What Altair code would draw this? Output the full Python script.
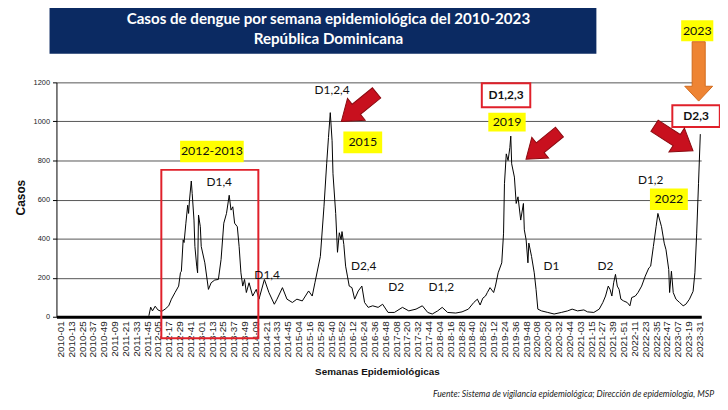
import altair as alt
import pandas as pd

# ---------------- data ----------------
# week number counted from 2010-01 (0 = 2010-01, 708 = 2023-31)
semana_n = [98, 100, 102, 105, 108, 112, 116, 120, 123, 127, 131, 133, 134, 136, 137, 139, 141, 142, 143, 145,
            146, 148, 149, 151, 152, 153, 155, 156, 160, 164, 167, 171, 175, 178, 181, 184, 187, 189, 191, 193,
            196, 198, 200, 202, 204, 206, 209, 213, 217, 220, 226, 231, 237, 240, 246, 251, 257, 262, 268, 275,
            279, 282, 288, 292, 295, 297, 299, 301, 302, 305, 307, 309, 311, 312, 314, 316, 318, 320, 323, 326,
            330, 334, 337, 341, 346, 352, 357, 363, 370, 379, 386, 394, 401, 407, 412, 418, 423, 429, 438, 445,
            452, 458, 462, 465, 468, 471, 473, 476, 480, 482, 485, 489, 491, 492, 494, 496, 498, 499, 500, 503,
            505, 507, 510, 513, 514, 516, 518, 519, 522, 525, 527, 529, 533, 540, 547, 555, 562, 567, 573, 580,
            584, 591, 597, 601, 604, 607, 609, 611, 613, 615, 617, 619, 621, 624, 628, 631, 633, 637, 640, 644,
            648, 652, 654, 657, 660, 662, 664, 666, 669, 671, 674, 675, 677, 679, 682, 686, 690, 693, 697, 701,
            703, 705, 707, 709]
casos = [5, 49, 30, 54, 35, 27, 39, 56, 90, 124, 157, 226, 233, 394, 380, 479, 571, 529, 597, 695,
         631, 495, 360, 259, 225, 521, 461, 360, 276, 140, 174, 188, 191, 293, 479, 529, 622, 546, 563, 479,
         461, 360, 225, 157, 191, 124, 174, 106, 140, 90, 191, 124, 64, 90, 149, 90, 73, 90, 81, 132,
         106, 174, 309, 563, 783, 918, 1045, 901, 732, 529, 330, 430, 395, 436, 370, 259, 208, 157, 149, 90,
         132, 157, 73, 48, 56, 48, 64, 22, 22, 48, 30, 39, 56, 22, 14, 30, 48, 22, 19, 25,
         39, 73, 90, 60, 95, 106, 124, 149, 124, 157, 225, 276, 428, 681, 834, 800, 867, 925, 783, 715,
         580, 614, 495, 580, 445, 394, 276, 377, 309, 225, 140, 39, 30, 22, 14, 22, 30, 39, 30, 35,
         25, 22, 39, 73, 106, 157, 140, 106, 174, 217, 157, 140, 90, 81, 73, 56, 98, 106, 124, 157,
         208, 250, 259, 360, 461, 529, 495, 461, 377, 343, 242, 124, 233, 124, 90, 73, 56, 64, 90, 130,
         225, 428, 681, 935]

tick_labels = ["2010-01", "2010-13", "2010-25", "2010-37", "2010-49", "2011-09", "2011-21", "2011-33", "2011-45",
               "2012-05", "2012-17", "2012-29", "2012-41", "2013-01", "2013-13", "2013-25", "2013-37", "2013-49",
               "2014-09", "2014-21", "2014-33", "2014-45", "2015-04", "2015-16", "2015-28", "2015-40", "2015-52",
               "2016-12", "2016-24", "2016-36", "2016-48", "2017-08", "2017-20", "2017-32", "2017-44", "2018-04",
               "2018-16", "2018-28", "2018-40", "2018-52", "2019-12", "2019-24", "2019-36", "2019-48", "2020-08",
               "2020-20", "2020-32", "2020-44", "2021-03", "2021-15", "2021-27", "2021-39", "2021-51", "2022-11",
               "2022-23", "2022-35", "2022-47", "2023-07", "2023-19", "2023-31"]
y_ticks = [0, 200, 400, 600, 800, 1000, 1200]

# annotations (in data units: week number, cases)
serotipo_txt = ["D1,4", "D1,2,4", "D1,4", "D2,4", "D2", "D1,2", "D1", "D2", "D1,2"]
serotipo_x = [176, 301, 229, 336, 372, 422, 544, 604, 654]
serotipo_y = [690, 1163, 216, 262, 154, 154, 262, 262, 698]

anio_txt = ["2012-2013", "2015", "2019", "2022", "2023"]
anio_x1 = [132.6, 313.5, 474.1, 653.2, 687.8]
anio_x2 = [203.1, 356.5, 515.5, 695.2, 723.4]
anio_y1 = [791, 837, 948, 546, 1411]
anio_y2 = [901, 948, 1044, 656, 1518]

caja_txt = ["D1,2,3", "D2,3"]
caja_x1 = [466.9, 678.0]
caja_x2 = [520.6, 730.6]
caja_y1 = [1073, 972]
caja_y2 = [1196, 1083]

# ---------------- tables ----------------
df = pd.DataFrame({"idx": semana_n, "val": casos})
df_sero = pd.DataFrame({"idx": serotipo_x, "val": serotipo_y, "t": serotipo_txt})
df_anio = pd.DataFrame({"idx": anio_x1, "idx2": anio_x2, "val": anio_y1, "val2": anio_y2, "t": anio_txt})
df_anio["cx"] = (df_anio["idx"] + df_anio["idx2"]) / 2
df_anio["cy"] = (df_anio["val"] + df_anio["val2"]) / 2
df_caja = pd.DataFrame({"idx": caja_x1, "idx2": caja_x2, "val": caja_y1, "val2": caja_y2, "t": caja_txt})
df_caja["cx"] = (df_caja["idx"] + df_caja["idx2"]) / 2
df_caja["cy"] = (df_caja["val"] + df_caja["val2"]) / 2
df_box = pd.DataFrame({"idx": [111.8], "idx2": [219.3], "val": [-110], "val2": [752]})

red_arrow = "M-0.29,-1L0.29,-1L0.29,0.15L0.62,0.15L0,1L-0.62,0.15L-0.29,0.15Z"
orange_arrow = "M-0.22,-1L0.22,-1L0.22,0.5L0.47,0.5L0,1L-0.47,0.5L-0.22,0.5Z"
df_red = pd.DataFrame({"idx": [330.8, 534.4, 679.6], "val": [1073, 876, 914],
                       "ang": [51, 51, 303], "sz": [2100, 1900, 2150]})
df_orange = pd.DataFrame({"idx": [707.2], "val": [1256], "ang": [0], "sz": [3600]})

# ---------------- encodings ----------------
label_arr = "[" + ",".join("'" + s + "'" for s in tick_labels) + "]"
xscale = alt.Scale(domain=[-4.4, 710], nice=False, zero=False)
yscale = alt.Scale(domain=[0, 1200], nice=False, zero=False)
xaxis = alt.Axis(values=[i * 12 for i in range(len(tick_labels))],
                 labelExpr=label_arr + "[round(datum.value/12)]",
                 labelAngle=270, labelFont="Liberation Sans", labelFontSize=10, labelColor="#222",
                 labelPadding=4, labelOverlap=False, labelFlush=False, ticks=False, grid=False,
                 domainColor="black", domainWidth=3,
                 title="Semanas Epidemiológicas", titleFont="Liberation Sans", titleFontSize=10,
                 titleFontWeight="bold", titleColor="#111", titleX=324, titleY=55,
                 titleBaseline="middle", titleAlign="center")
yaxis = alt.Axis(values=y_ticks, format="d", labelFont="Liberation Sans", labelFontSize=7.5, labelColor="#222",
                 labelPadding=3, tickSize=4, tickColor="black", domainColor="black", domainWidth=1,
                 grid=True, gridColor="#555", gridWidth=1,
                 title="Casos", titleFont="Liberation Sans", titleFontSize=12, titleFontWeight="bold",
                 titleColor="#111", titleX=-36, titleY=116, titleAngle=270, titleAlign="center",
                 titleBaseline="middle")


def X(f="idx"):
    return alt.X(f, type="quantitative", scale=xscale, axis=xaxis)


def Y(f="val"):
    return alt.Y(f, type="quantitative", scale=yscale, axis=yaxis)


one = pd.DataFrame({"k": [0]})

title_box = alt.Chart(one).mark_rect(color="#0b2a62").encode(
    x=alt.value(-7), x2=alt.value(546), y=alt.value(-78), y2=alt.value(-29))
title1 = alt.Chart(one).mark_text(font="Lato", fontSize=15.3, fontWeight="bold", color="white").encode(
    x=alt.value(275), y=alt.value(-64), text=alt.value("Casos de dengue por semana epidemiológica del 2010-2023"))
title2 = alt.Chart(one).mark_text(font="Lato", fontSize=15.3, fontWeight="bold", color="white").encode(
    x=alt.value(275), y=alt.value(-44), text=alt.value("República Dominicana"))
footer = alt.Chart(one).mark_text(font="Lato", fontSize=8.8, fontStyle="italic", color="#222",
                                  align="right").encode(
    x=alt.value(665), y=alt.value(315),
    text=alt.value("Fuente: Sistema de vigilancia epidemiológica; Dirección de epidemiología, MSP"))

line = alt.Chart(df).mark_line(color="black", strokeWidth=1).encode(x=X(), y=Y())

red_box = alt.Chart(df_box).mark_rect(fill=None, stroke="#e0202a", strokeWidth=2).encode(
    x=X(), x2="idx2", y=Y(), y2="val2")

sero = alt.Chart(df_sero).mark_text(font="Lato", fontSize=12, color="#111").encode(
    x=X(), y=Y(), text="t:N")

anio_rect = alt.Chart(df_anio).mark_rect(color="#ffff00").encode(x=X(), x2="idx2", y=Y(), y2="val2")
anio_text = alt.Chart(df_anio).mark_text(font="Lato", fontSize=12.5, color="#111").encode(
    x=X("cx"), y=Y("cy"), text="t:N")

caja_rect = alt.Chart(df_caja).mark_rect(fill="white", stroke="#e0202a", strokeWidth=2).encode(
    x=X(), x2="idx2", y=Y(), y2="val2")
caja_text = alt.Chart(df_caja).mark_text(font="Lato", fontSize=12, fontWeight="bold", color="#111").encode(
    x=X("cx"), y=Y("cy"), text="t:N")

arrows_red = alt.Chart(df_red).mark_point(shape=red_arrow, filled=True, fill="#c8101e", stroke="#8a0a10",
                                          strokeWidth=1, opacity=1).encode(
    x=X(), y=Y(), angle=alt.Angle("ang:Q", scale=None), size=alt.Size("sz:Q", scale=None))
arrows_orange = alt.Chart(df_orange).mark_point(shape=orange_arrow, filled=True, fill="#ee8433",
                                                stroke="#d06a1c", strokeWidth=1, opacity=1).encode(
    x=X(), y=Y(), angle=alt.Angle("ang:Q", scale=None), size=alt.Size("sz:Q", scale=None))

chart = alt.layer(
    title_box, title1, title2, line, red_box, anio_rect, anio_text, caja_rect, caja_text, sero,
    arrows_red, arrows_orange, footer
).properties(
    width=652, height=237,
    autosize=alt.AutoSizeParams(type="none"),
    padding={"left": 49, "top": 73, "right": 19, "bottom": 84},
    background="white"
).configure_view(stroke=None)

chart.save("out.html", embed_options={"renderer": "svg", "actions": False})
